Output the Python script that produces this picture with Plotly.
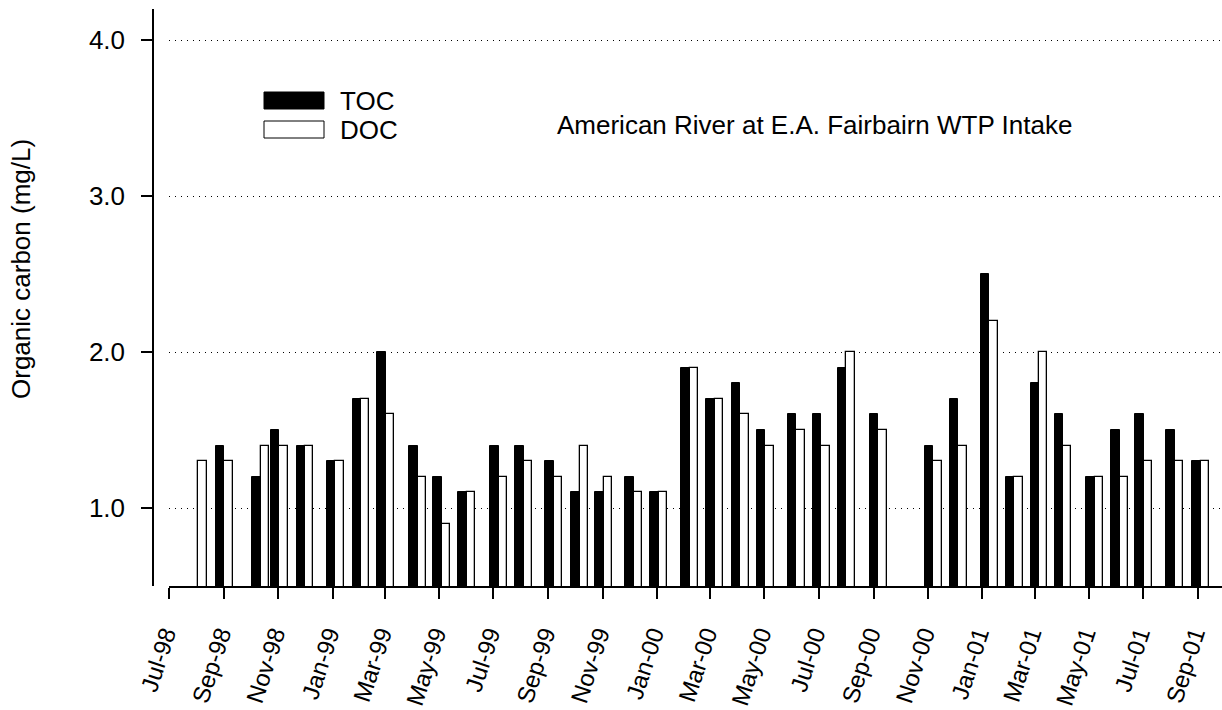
import pandas as pd
import plotly.graph_objects as go

# Monthly grab samples, American River at E.A. Fairbairn WTP intake
sample_dates = [
    "1998-08-03", "1998-09-01", "1998-10-12", "1998-11-02", "1998-12-01",
    "1999-01-04", "1999-02-02", "1999-03-02", "1999-04-07", "1999-05-04",
    "1999-06-01", "1999-07-07", "1999-08-04", "1999-09-07", "1999-10-06",
    "1999-11-02", "1999-12-06", "2000-01-03", "2000-02-07", "2000-03-06",
    "2000-04-04", "2000-05-02", "2000-06-06", "2000-07-04", "2000-08-01",
    "2000-09-06", "2000-11-07", "2000-12-05", "2001-01-09", "2001-02-06",
    "2001-03-06", "2001-04-02", "2001-05-08", "2001-06-05", "2001-07-02",
    "2001-08-06", "2001-09-04",
]
toc = [
    None, 1.4, 1.2, 1.5, 1.4,
    1.3, 1.7, 2.0, 1.4, 1.2,
    1.1, 1.4, 1.4, 1.3, 1.1,
    1.1, 1.2, 1.1, 1.9, 1.7,
    1.8, 1.5, 1.6, 1.6, 1.9,
    1.6, 1.4, 1.7, 2.5, 1.2,
    1.8, 1.6, 1.2, 1.5, 1.6,
    1.5, 1.3,
]
doc = [
    1.3, 1.3, 1.4, 1.4, 1.4,
    1.3, 1.7, 1.6, 1.2, 0.9,
    1.1, 1.2, 1.3, 1.2, 1.4,
    1.2, 1.1, 1.1, 1.9, 1.7,
    1.6, 1.4, 1.5, 1.4, 2.0,
    1.5, 1.3, 1.4, 2.2, 1.2,
    2.0, 1.4, 1.2, 1.2, 1.3,
    1.3, 1.3,
]
tick_labels = [
    "Jul-98", "Sep-98", "Nov-98", "Jan-99", "Mar-99", "May-99", "Jul-99",
    "Sep-99", "Nov-99", "Jan-00", "Mar-00", "May-00", "Jul-00", "Sep-00",
    "Nov-00", "Jan-01", "Mar-01", "May-01", "Jul-01", "Sep-01",
]
y_ticks = [1.0, 2.0, 3.0, 4.0]

dates = pd.to_datetime(sample_dates)
tick_vals = pd.to_datetime(tick_labels, format="%b-%y")

FONT = "Liberation Sans, Arial, sans-serif"
DAY_MS = 86400000
BAR_MS = 9.5 * DAY_MS

W, H = 1222, 710
L, R, T, B = 153, 0, 9, 124
PW, PH = W - L - R, H - T - B


def px2x(px):
    return (px - L) / PW


def px2y(py):
    return (H - B - py) / PH


fig = go.Figure()
fig.add_trace(go.Bar(
    x=dates, y=toc, name="TOC", width=BAR_MS, offset=-BAR_MS,
    marker=dict(color="black", line=dict(color="black", width=1)),
))
fig.add_trace(go.Bar(
    x=dates, y=doc, name="DOC", width=BAR_MS, offset=0,
    marker=dict(color="white", line=dict(color="black", width=1.3)),
))

# hand-drawn key with long swatches
key = [("TOC", "black", 92, 109), ("DOC", "white", 121, 138)]
shapes = []
annotations = []
for label, fill, top, bottom in key:
    shapes.append(dict(
        type="rect", xref="paper", yref="paper",
        x0=px2x(264), x1=px2x(324), y0=px2y(bottom), y1=px2y(top),
        fillcolor=fill, line=dict(color="black", width=1),
    ))
    annotations.append(dict(
        text=label, xref="paper", yref="paper",
        x=px2x(338), y=px2y((top + bottom) / 2), xanchor="left", yanchor="middle",
        showarrow=False, font=dict(family=FONT, size=26, color="black"),
    ))

annotations.append(dict(
    text="American River at E.A. Fairbairn WTP Intake", xref="paper", yref="paper",
    x=px2x(555), y=px2y(125), xanchor="left", yanchor="middle",
    showarrow=False, font=dict(family=FONT, size=26, color="black"),
))
annotations.append(dict(
    text="Organic carbon (mg/L)", xref="paper", yref="paper",
    x=px2x(21), y=px2y(269), xanchor="center", yanchor="middle", textangle=-90,
    showarrow=False, font=dict(family=FONT, size=26, color="black"),
))

fig.update_layout(
    width=W, height=H,
    margin=dict(l=L, r=R, t=T, b=B, pad=0, autoexpand=False),
    paper_bgcolor="white", plot_bgcolor="white",
    barmode="overlay", bargap=0,
    showlegend=False,
    font=dict(family=FONT, size=26, color="black"),
    shapes=shapes, annotations=annotations,
    xaxis=dict(
        type="date", domain=[px2x(169), 1], automargin=False,
        range=["1998-07-01", "2001-09-28"],
        tickvals=tick_vals, ticktext=tick_labels, tickangle=-72,
        ticklabelstandoff=12, ticklabelshift=-4,
        showline=True, linecolor="black", linewidth=1.5,
        ticks="outside", ticklen=11, tickwidth=1.5, tickcolor="black",
        showgrid=False, zeroline=False,
        tickfont=dict(family=FONT, size=24, color="black"),
    ),
    yaxis=dict(
        range=[0.5, 4.2], tickvals=y_ticks, tickformat=".1f",
        anchor="free", position=0, ticklabelstandoff=11, automargin=False,
        showline=True, linecolor="black", linewidth=1.5,
        ticks="outside", ticklen=11, tickwidth=1.5, tickcolor="black",
        showgrid=True, gridcolor="black", gridwidth=1, griddash="1px,5px",
        zeroline=False,
        tickfont=dict(family=FONT, size=26, color="black"),
    ),
)

fig.write_html("out.html")
